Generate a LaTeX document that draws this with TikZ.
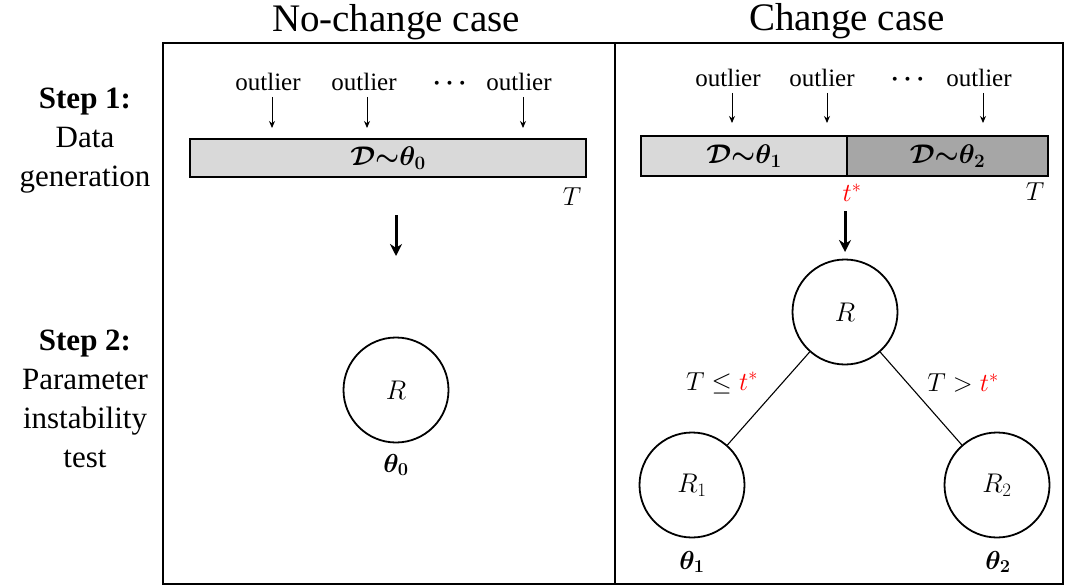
\RequirePackage{fix-cm}
\documentclass[tikz,border=0pt]{standalone}
\usepackage{amsmath}
\usepackage{fontspec}
\setmainfont{Liberation Serif}
\newfontfamily\lserif{Liberation Serif}
\usetikzlibrary{arrows.meta}
\definecolor{lightbar}{RGB}{217,217,217}
\definecolor{darkbar}{RGB}{166,166,166}
\definecolor{starred}{RGB}{255,0,0}
\tikzset{
  title/.style={font=\lserif\fontsize{39}{44}\selectfont, inner sep=0pt},
  steptext/.style={font=\lserif\fontsize{31}{39}\selectfont, align=center, inner sep=0pt},
  outl/.style={font=\lserif\fontsize{25}{28}\selectfont, inner sep=0pt},
  bar/.style={draw=black, line width=2pt, minimum height=38pt, inner sep=0pt, font=\fontsize{27}{30}\selectfont},
  smallarrow/.style={-{Stealth[length=7pt,width=6pt]}, line width=0.9pt},
  bigarrow/.style={-{Stealth[length=12pt,width=12pt]}, line width=3pt},
  circ/.style={circle, draw=black, line width=1.8pt, minimum size=105pt, inner sep=0pt, font=\fontsize{27}{30}\selectfont},
  mlabel/.style={font=\fontsize{26}{30}\selectfont, inner sep=0pt},
  frame/.style={line width=2.5pt}
}
\begin{document}
\begin{tikzpicture}[x=1pt,y=-1pt]
\useasboundingbox (0,0) rectangle (1067,588);
% titles
\node[title] (t1) at (396,22) {No-change case};
\node[title] (t2) at (847,21) {Change case};
% frame
\draw[frame] (163,43) rectangle (1063,584);
\draw[frame] (615,43) -- (615,584);
% step labels
\node[steptext] (s1) at (85,141) {\textbf{Step 1:}\\Data\\generation};
\node[steptext] (s2) at (85,399) {\textbf{Step 2:}\\Parameter\\instability\\test};
% left bar
\node[bar, fill=lightbar, minimum width=396pt] (barL) at (388,158) {$\boldsymbol{\mathcal{D}{\sim}\theta_0}$};
\node[mlabel] (TL) at (572,197) {$T$};
\node[outl] (oL1) at (268,82) {outlier};
\node[outl] (oL2) at (364,82) {outlier};
\node[outl] (dL) at (452,84) {$\boldsymbol{\cdots}$};
\node[outl] (oL3) at (519,82) {outlier};
\coordinate (aL1) at (272,128);
\coordinate (aL2) at (367,128);
\coordinate (aL3) at (523,128);
\draw[smallarrow] (oL1.south -| aL1) ++(0,6) -- (aL1);
\draw[smallarrow] (oL2.south -| aL2) ++(0,6) -- (aL2);
\draw[smallarrow] (oL3.south -| aL3) ++(0,6) -- (aL3);
% left big arrow and circle
\coordinate (bLs) at (396,215);
\coordinate (bLe) at (396,256);
\draw[bigarrow] (bLs) -- (bLe);
\node[circ] (R0) at (396,390) {$R$};
\node[mlabel] (th0) at (396,465) {$\boldsymbol{\theta_0}$};
% right bar
\node[bar, draw=none, fill=lightbar, minimum width=204pt, anchor=east] (barR1) at (847,156) {$\boldsymbol{\mathcal{D}{\sim}\theta_1}$};
\node[bar, draw=none, fill=darkbar, minimum width=199pt, anchor=west] (barR2) at (847,156) {$\boldsymbol{\mathcal{D}{\sim}\theta_2}$};
\draw[line width=2pt] (barR1.north west) rectangle (barR2.south east);
\draw[line width=1.5pt] (barR1.north east) -- (barR1.south east);
\node[mlabel] (ts) at (852,193) {$\color{starred}t^{*}$};
\node[mlabel] (TR) at (1035,192) {$T$};
\node[outl] (oR1) at (728,78) {outlier};
\node[outl] (oR2) at (822,78) {outlier};
\node[outl] (dR) at (910,80) {$\boldsymbol{\cdots}$};
\node[outl] (oR3) at (979,78) {outlier};
\coordinate (aR1) at (732,123);
\coordinate (aR2) at (827,123);
\coordinate (aR3) at (983,123);
\draw[smallarrow] (oR1.south -| aR1) ++(0,6) -- (aR1);
\draw[smallarrow] (oR2.south -| aR2) ++(0,6) -- (aR2);
\draw[smallarrow] (oR3.south -| aR3) ++(0,6) -- (aR3);
% right tree
\coordinate (bRs) at (845,211);
\coordinate (bRe) at (845,252);
\draw[bigarrow] (bRs) -- (bRe);
\node[circ] (R) at (845,312) {$R$};
\node[circ] (R1) at (692,485) {$R_1$};
\node[circ] (R2) at (997,485) {$R_2$};
\draw[line width=1.1pt] (R) -- (R1);
\draw[line width=1.1pt] (R) -- (R2);
\node[mlabel] (l1) at (722,383) {$T \le \color{starred}t^{*}$};
\node[mlabel] (l2) at (963,383) {$T > \color{starred}t^{*}$};
\node[mlabel] (th1) at (692,562) {$\boldsymbol{\theta_1}$};
\node[mlabel] (th2) at (998,562) {$\boldsymbol{\theta_2}$};
\end{tikzpicture}
\end{document}
